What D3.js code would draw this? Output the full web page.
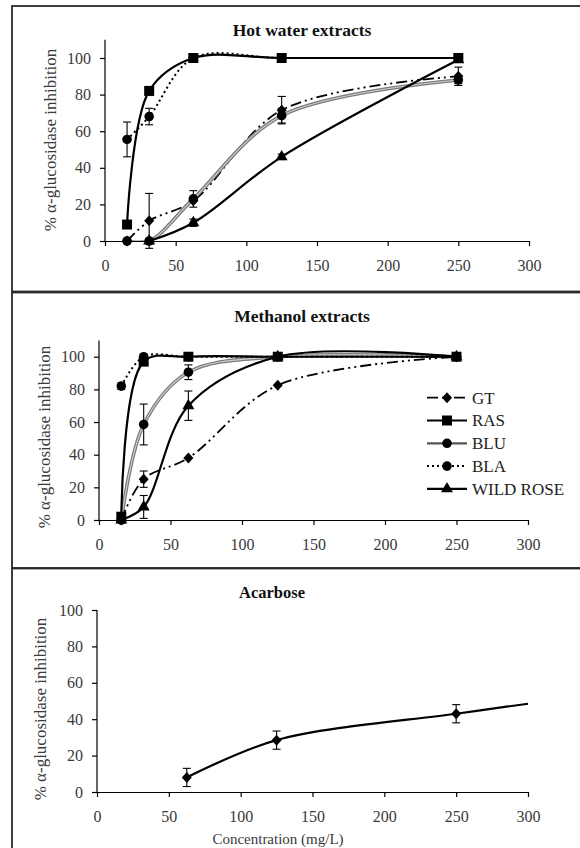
<!DOCTYPE html>
<html><head><meta charset="utf-8">
<script src="https://cdn.jsdelivr.net/npm/d3@7"></script>
<style>
html,body{margin:0;padding:0;background:#fff;}
svg{display:block;font-family:"Liberation Serif","Times New Roman",serif;}
</style></head>
<body>
<svg id="chart" width="580" height="848"></svg>
<script>
// ---------------- DATA ----------------
const concentrations = [15.6, 31.25, 62.5, 125, 250];
const seriesNames = ["GT", "RAS", "BLU", "BLA", "WILD ROSE"];
const xTicks = [0, 50, 100, 150, 200, 250, 300];
const yTicksExtracts = [0, 20, 40, 60, 80, 100];
const yTicksAcarbose = [0, 20, 40, 60, 80, 100];

// Hot water extracts
const hotGT = [0, 11, 22, 71.5, 90];
const hotGTErr = [0, 15, 0, 7.5, 5];
const hotRAS = [9, 82, 100, 100, 100];
const hotRASErr = [0, 0, 0, 0, 0];
const hotBLU = [0, 0, 23, 68.5, 88];
const hotBLUErr = [0, 0, 4.5, 4, 2];
const hotBLA = [55.5, 68, 100, 100, 100];
const hotBLAErr = [9.5, 4.5, 0, 0, 0];
const hotWILD = [null, 0, 10, 46, 99];
const hotWILDErr = [0, 0, 2, 1.5, 0];

// Methanol extracts
const meGT = [0, 25, 38, 82.5, 100];
const meGTErr = [0, 5, 0, 0, 0];
const meRAS = [2, 97, 100, 100, 100];
const meRASErr = [0, 0, 0, 0, 0];
const meBLU = [0, 58.5, 90.5, 100, 100];
const meBLUErr = [0, 12.5, 4.5, 0, 0];
const meBLA = [82, 100, 100, 100, 100];
const meBLAErr = [2, 0, 0, 0, 0];
const meWILD = [0, 8, 70, 100, 100];
const meWILDErr = [0, 7, 9, 0, 0];

// Acarbose (last point is the end of the curve at the axis limit, no marker)
const acarboseConc = [62.5, 125, 250, 300];
const acarboseVals = [8, 28.5, 43, 48.5];
const acarboseErr = [5, 5, 5, null];

// ---------------- STYLES ----------------
const styles = {
  "GT":        {marker: "diamond",  stroke: "#000", width: 1.8, dash: "11,4,2,4,2,4", gray: false},
  "RAS":       {marker: "square",   stroke: "#000", width: 2.2, dash: null, gray: false},
  "BLU":       {marker: "circle",   stroke: "#7a7a7a", width: 3.6, dash: null, gray: true},
  "BLA":       {marker: "circle",   stroke: "#000", width: 2, dash: "2,3", gray: false},
  "WILD ROSE": {marker: "triangle", stroke: "#000", width: 2.2, dash: null, gray: false},
  "Acarbose":  {marker: "diamond",  stroke: "#000", width: 2.2, dash: null, gray: false}
};

const svg = d3.select("#chart");
const font = '"Liberation Serif","Times New Roman",serif';

// panel frames
const frames = [
  {x: 12, y: 6, w: 580, h: 285.5},
  {x: 12, y: 292.5, w: 580, h: 275.5},
  {x: 12, y: 568.5, w: 580, h: 300}
];
frames.forEach(f => {
  svg.append("rect").attr("x", f.x).attr("y", f.y).attr("width", f.w).attr("height", f.h)
    .attr("fill", "none").attr("stroke", "#2a2a2a").attr("stroke-width", 1.8);
});

function markerPath(type) {
  if (type === "square") return d3.symbol(d3.symbolSquare, 100)();
  if (type === "circle") return d3.symbol(d3.symbolCircle, 72)();
  if (type === "triangle") return d3.symbol(d3.symbolTriangle, 62)();
  if (type === "diamond") return "M0,-5.5L5,0L0,5.5L-5,0Z";
  return d3.symbol(d3.symbolCircle, 60)();
}

const curve = d3.curveCatmullRom.alpha(0.5);

function drawPanel(cfg) {
  const x = d3.scaleLinear().domain([0, 300]).range([cfg.x0, cfg.x1]);
  const y = d3.scaleLinear().domain([0, cfg.ymax]).range([cfg.yBottom, cfg.yTop]);
  const g = svg.append("g");

  const clipId = "clip" + cfg.id;
  svg.append("clipPath").attr("id", clipId).append("rect")
    .attr("x", cfg.x0).attr("y", cfg.yTop - 4)
    .attr("width", cfg.x1 - cfg.x0 + 2).attr("height", cfg.yBottom - cfg.yTop + 4);

  // axes
  const xAxis = d3.axisBottom(x).tickValues(xTicks).tickSize(5).tickSizeOuter(0).tickPadding(10);
  const yAxis = d3.axisLeft(y).tickValues(cfg.yTicks).tickSize(5).tickSizeOuter(0).tickPadding(9);
  const gx = g.append("g").attr("transform", `translate(0,${cfg.yBottom})`).call(xAxis);
  const gy = g.append("g").attr("transform", `translate(${cfg.x0},0)`).call(yAxis);
  [gx, gy].forEach(a => {
    a.attr("font-family", font);
    a.select(".domain").attr("stroke", "#000").attr("stroke-width", 1.2);
    a.selectAll(".tick line").attr("stroke", "#000").attr("stroke-width", 1.2);
    a.selectAll(".tick text").attr("font-family", font).attr("font-size", 16).attr("fill", "#3a3a3a");
  });
  gx.selectAll(".tick text").attr("dy", "0.95em");
  gy.select(".domain").attr("d", `M-0,${cfg.yBottom}V${cfg.yTop}`);

  // title
  g.append("text").attr("x", cfg.titleX).attr("y", cfg.titleY).attr("text-anchor", "middle")
    .attr("font-family", font).attr("font-weight", "bold").attr("font-size", cfg.titleSize)
    .attr("fill", "#111").text(cfg.title);

  // y label
  g.append("text").attr("transform", `translate(${cfg.ylabX},${cfg.ylabY}) rotate(-90)`)
    .attr("text-anchor", "middle").attr("dominant-baseline", "central")
    .attr("font-family", font).attr("font-size", 17).attr("fill", "#3a3a3a")
    .text("% α-glucosidase inhibition");

  const plot = g.append("g").attr("clip-path", `url(#${clipId})`);
  const marks = g.append("g");

  cfg.series.forEach(s => {
    const st = styles[s.name];
    const pts = s.conc.map((c, i) => ({c, v: s.vals[i], e: s.err ? s.err[i] : null, show: s.err ? s.err[i] !== null : true}))
      .filter(p => p.v !== null);
    const line = d3.line().x(d => x(d.c)).y(d => y(d.v)).curve(curve);
    if (st.gray) {
      plot.append("path").attr("d", line(pts)).attr("fill", "none")
        .attr("stroke", st.stroke).attr("stroke-width", st.width);
      plot.append("path").attr("d", line(pts)).attr("fill", "none")
        .attr("stroke", "#d0d0d0").attr("stroke-width", 1.1);
    } else {
      plot.append("path").attr("d", line(pts)).attr("fill", "none")
        .attr("stroke", st.stroke).attr("stroke-width", st.width)
        .attr("stroke-dasharray", st.dash);
    }
    pts.forEach(p => {
      if (p.e) {
        const yt = y(p.v + p.e), yb = y(p.v - p.e), xc = x(p.c);
        marks.append("line").attr("x1", xc).attr("x2", xc).attr("y1", yt).attr("y2", yb)
          .attr("stroke", "#000").attr("stroke-width", 1.1);
        [yt, yb].forEach(yy => marks.append("line").attr("x1", xc - 4).attr("x2", xc + 4)
          .attr("y1", yy).attr("y2", yy).attr("stroke", "#000").attr("stroke-width", 1.1));
      }
    });
    pts.forEach(p => {
      if (!p.show) return;
      marks.append("path").attr("d", markerPath(st.marker))
        .attr("transform", `translate(${x(p.c)},${y(p.v)})`).attr("fill", "#000");
    });
  });

  if (cfg.xLabel) {
    g.append("text").attr("x", cfg.xLabelX).attr("y", cfg.xLabelY).attr("text-anchor", "middle")
      .attr("font-family", font).attr("font-size", 15).attr("fill", "#3a3a3a").text(cfg.xLabel);
  }
}

function mk(conc, vals, err, name) { return {name, conc, vals, err}; }

drawPanel({
  id: 1, title: "Hot water extracts", titleX: 302, titleY: 36, titleSize: 17.5,
  x0: 105, x1: 529, yBottom: 241, yTop: 39.7, ymax: 110, yTicks: yTicksExtracts,
  ylabX: 50, ylabY: 140,
  series: [
    mk(concentrations, hotGT, hotGTErr, "GT"),
    mk(concentrations, hotBLU, hotBLUErr, "BLU"),
    mk(concentrations, hotBLA, hotBLAErr, "BLA"),
    mk(concentrations, hotWILD, hotWILDErr, "WILD ROSE"),
    mk(concentrations, hotRAS, hotRASErr, "RAS")
  ]
});

drawPanel({
  id: 2, title: "Methanol extracts", titleX: 302, titleY: 322, titleSize: 17.5,
  x0: 99, x1: 528, yBottom: 520, yTop: 340.4, ymax: 110, yTicks: yTicksExtracts,
  ylabX: 44, ylabY: 437,
  series: [
    mk(concentrations, meBLU, meBLUErr, "BLU"),
    mk(concentrations, meGT, meGTErr, "GT"),
    mk(concentrations, meBLA, meBLAErr, "BLA"),
    mk(concentrations, meWILD, meWILDErr, "WILD ROSE"),
    mk(concentrations, meRAS, meRASErr, "RAS")
  ]
});

drawPanel({
  id: 3, title: "Acarbose", titleX: 272, titleY: 598, titleSize: 16.5,
  x0: 97, x1: 528, yBottom: 792, yTop: 610, ymax: 100, yTicks: yTicksAcarbose,
  ylabX: 40, ylabY: 709,
  xLabel: "Concentration (mg/L)", xLabelX: 278, xLabelY: 844,
  series: [mk(acarboseConc, acarboseVals, acarboseErr, "Acarbose")]
});

// ---------------- LEGEND (methanol panel) ----------------
const legend = svg.append("g");
seriesNames.forEach((name, i) => {
  const st = styles[name];
  const yy = 397.7 + i * 22.8;
  if (st.gray) {
    legend.append("line").attr("x1", 427).attr("x2", 467).attr("y1", yy).attr("y2", yy)
      .attr("stroke", "#555").attr("stroke-width", 2.2);
  } else {
    legend.append("line").attr("x1", 427).attr("x2", 467).attr("y1", yy).attr("y2", yy)
      .attr("stroke", st.stroke).attr("stroke-width", st.width).attr("stroke-dasharray", st.dash);
  }
  legend.append("path").attr("d", markerPath(st.marker)).attr("transform", `translate(447,${yy})`).attr("fill", "#000");
  legend.append("text").attr("x", 472).attr("y", yy).attr("dy", "0.35em")
    .attr("font-family", font).attr("font-size", 17).attr("fill", "#222").text(name);
});
</script>
</body></html>
